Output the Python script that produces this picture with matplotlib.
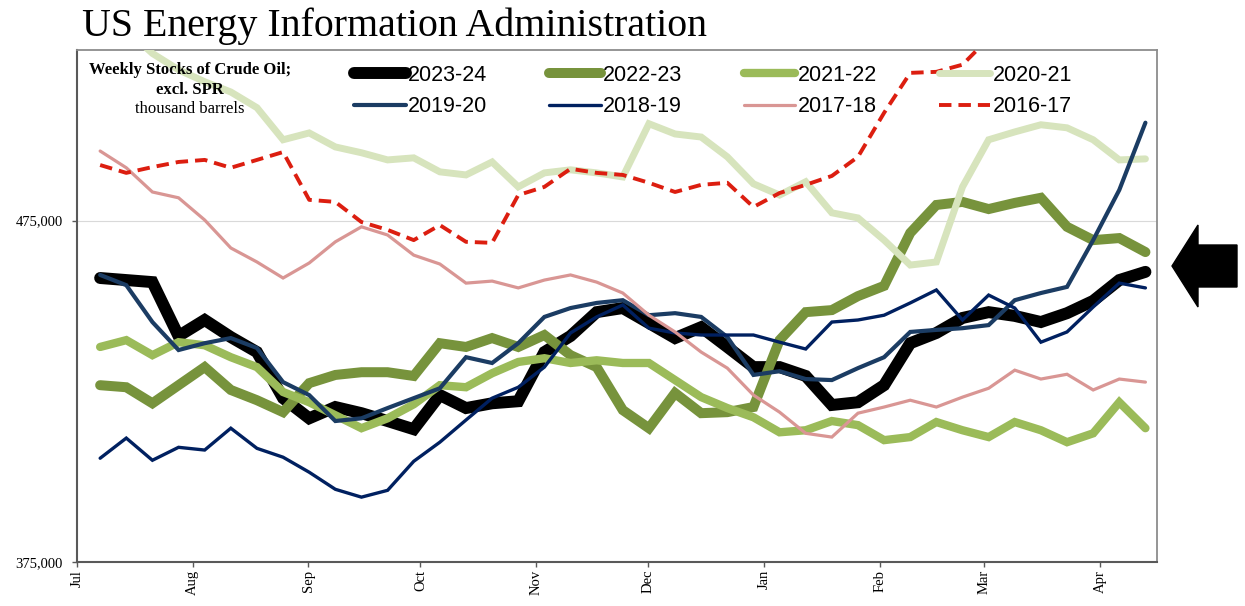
import numpy as np
import matplotlib
matplotlib.use("Agg")
import matplotlib.pyplot as plt
from matplotlib.patches import Polygon

# weekly crude oil stocks excl. SPR, million barrels (x1000 = thousand barrels)
# one value per week from early July to mid April
s2023_24 = [458.2, 457.6, 457.0, 441.2, 445.9, 440.9, 436.5, 423.0, 417.1, 420.4,
            418.6, 416.3, 413.9, 423.9, 420.1, 421.5, 422.1, 436.5, 441.2, 448.2,
            449.4, 445.0, 440.6, 443.8, 438.0, 432.1, 432.1, 429.5, 421.0, 421.8,
            426.8, 439.1, 442.1, 446.5, 448.2, 447.1, 445.3, 447.9, 451.5, 457.6, 460.0]
s2022_23 = [426.8, 426.2, 421.5, 426.8, 432.1, 425.4, 422.4, 418.9, 427.4, 429.8,
            430.6, 430.6, 429.5, 439.1, 438.0, 440.6, 438.0, 441.5, 435.6, 432.1,
            419.5, 414.2, 424.5, 418.6, 418.9, 420.4, 440.0, 448.2, 448.8, 452.9,
            455.9, 471.4, 479.6, 480.5, 478.4, 480.2, 481.7, 473.2, 469.3, 469.9, 465.8]
s2021_22 = [438.0, 440.0, 435.6, 439.4, 438.5, 435.0, 432.1, 424.8, 421.8, 418.0,
            414.2, 417.1, 421.2, 426.8, 426.2, 430.3, 433.6, 434.7, 433.3, 434.1,
            433.3, 433.3, 428.3, 423.3, 420.1, 417.4, 413.0, 413.6, 416.3, 415.1,
            410.7, 411.6, 416.0, 413.6, 411.6, 416.0, 413.6, 410.1, 412.7, 421.8, 414.2]
s2020_21 = [534.0, 531.0, 524.0, 519.2, 515.7, 512.7, 508.1, 498.7, 500.7, 496.6,
            494.9, 492.8, 493.4, 489.3, 488.4, 492.2, 484.9, 489.0, 489.9, 489.0,
            487.8, 503.4, 500.4, 499.5, 493.7, 485.8, 482.5, 486.4, 477.3, 475.8,
            469.3, 462.0, 462.9, 484.9, 498.7, 501.0, 503.1, 502.2, 498.7, 492.8, 493.1]
s2019_20 = [459.1, 456.1, 445.3, 437.1, 439.1, 440.6, 437.7, 427.7, 423.9, 416.3,
            417.1, 420.1, 423.0, 425.9, 435.0, 433.3, 439.1, 446.8, 449.4, 450.9,
            451.7, 447.3, 447.9, 446.8, 440.9, 429.8, 430.9, 428.6, 428.3, 431.8,
            435.0, 442.4, 443.0, 443.5, 444.4, 451.7, 453.8, 455.6, 469.3, 484.0, 503.7]
s2018_19 = [405.4, 411.3, 404.8, 408.6, 407.8, 414.2, 408.3, 405.7, 401.3, 396.3,
            394.0, 396.0, 404.5, 410.1, 416.6, 423.0, 426.2, 432.1, 442.1, 446.8,
            450.3, 443.5, 442.1, 441.5, 441.5, 441.5, 439.4, 437.4, 445.3, 445.9,
            447.3, 450.9, 454.7, 445.9, 453.2, 449.4, 439.4, 442.4, 449.7, 456.7, 455.3]
s2017_18 = [495.4, 490.5, 483.4, 481.7, 475.2, 467.0, 462.9, 458.2, 462.6, 468.8,
            473.2, 470.8, 464.9, 462.3, 456.7, 457.3, 455.3, 457.6, 459.1, 457.0,
            453.8, 447.3, 442.4, 436.5, 431.8, 423.9, 418.9, 412.7, 411.6, 418.6,
            420.4, 422.4, 420.4, 423.3, 425.9, 431.2, 428.6, 430.0, 425.4, 428.6, 427.7]
s2016_17 = [491.3, 489.0, 490.7, 492.2, 492.8, 490.5, 492.8, 495.1, 481.1, 480.5,
            474.6, 472.3, 469.3, 473.7, 468.8, 468.5, 482.5, 484.9, 490.2, 489.0,
            488.4, 486.1, 483.4, 485.5, 486.1, 479.0, 483.1, 485.5, 488.1, 493.7,
            506.6, 518.3, 518.6, 520.7, 528.4, 533.1, 535.0, 535.5, 533.4, 532.3, 531.0]

months = ["Jul", "Aug", "Sep", "Oct", "Nov", "Dec", "Jan", "Feb", "Mar", "Apr"]
month_days = [0, 31, 62, 92, 123, 153, 184, 215, 243, 274]  # days since 1 July

# days since 1 July for each weekly report
days = 6.2 + 7 * np.arange(len(s2023_24))

series = [
    ("2023-24", s2023_24, "#000000", 8.6, "-", 1),
    ("2022-23", s2022_23, "#77933c", 7.2, "-", 2),
    ("2021-22", s2021_22, "#9bbb59", 6.0, "-", 3),
    ("2020-21", s2020_21, "#d7e4bd", 5.0, "-", 4),
    ("2019-20", s2019_20, "#1b3c63", 3.0, "-", 5),
    ("2018-19", s2018_19, "#002060", 2.4, "-", 6),
    ("2017-18", s2017_18, "#d99694", 2.3, "-", 7),
    ("2016-17", s2016_17, "#dc1e10", 2.8, (0, (3.2, 1.8)), 8),
]

serif = "Liberation Serif"
sans = "Liberation Sans"

fig = plt.figure(figsize=(12.45, 6.06), dpi=100)
ax = fig.add_axes([77 / 1245, 1 - 562 / 606, (1157 - 77) / 1245, (562 - 50) / 606])

lines = {}
for name, vals, col, lw, ls, z in series:
    ln, = ax.plot(days, np.array(vals) * 1000, color=col, lw=lw, ls=ls,
                  solid_capstyle="round", solid_joinstyle="miter", zorder=z, label=name)
    lines[name] = ln

ax.set_xlim(0, 289.3)
ax.set_ylim(375000, 525000)
ax.set_yticks([375000, 475000])
ax.set_yticklabels(["375,000", "475,000"], fontfamily=serif, fontsize=10.5)
ax.set_xticks(month_days)
ax.set_xticklabels(months, rotation=90, fontfamily=serif, fontsize=10.5)
ax.tick_params(axis="y", direction="out", length=3.6, width=1, color="#595959", pad=6.5)
ax.tick_params(axis="x", direction="out", length=3.6, width=1, color="#595959", pad=2)
ax.yaxis.grid(True, color="#d9d9d9", lw=0.8, zorder=0)
ax.set_axisbelow(True)

for side in ["left", "bottom"]:
    ax.spines[side].set_color("#595959")
    ax.spines[side].set_linewidth(1.5)
for side in ["top", "right"]:
    ax.spines[side].set_color("#8c8c8c")
    ax.spines[side].set_linewidth(1.3)

# legend: 4 columns, filled column by column
order = ["2023-24", "2019-20", "2022-23", "2018-19", "2021-22", "2017-18", "2020-21", "2016-17"]
leg = fig.legend([lines[k] for k in order], order, ncol=4, frameon=False,
                 loc="upper left", bbox_to_anchor=(354 / 1245, 1 - 65 / 606),
                 borderpad=0, borderaxespad=0, handlelength=2.4, handletextpad=0.12,
                 columnspacing=2.85, labelspacing=0.48,
                 prop={"family": sans, "size": 15.5})

fig.text(82 / 1245, 1 - 36 / 606, "US Energy Information Administration",
         fontfamily=serif, fontsize=28.7, va="baseline", ha="left")

for txt, yb, wt in [("Weekly Stocks of Crude Oil;", 74, "bold"),
                    ("excl. SPR", 94, "bold"),
                    ("thousand barrels", 113, "normal")]:
    ax.text(190 / 1245, 1 - yb / 606, txt, transform=fig.transFigure, zorder=20,
            fontfamily=serif, fontweight=wt, fontsize=12, ha="center", va="baseline")

# big arrow pointing at the latest value
arrow_px = [(1172, 266), (1198, 225), (1198, 245), (1237, 245),
            (1237, 287), (1198, 287), (1198, 307)]
arrow = Polygon([(x / 1245, 1 - y / 606) for x, y in arrow_px], closed=True,
                facecolor="black", edgecolor="black", transform=fig.transFigure)
fig.patches.append(arrow)

fig.savefig("out.png", dpi=100)
